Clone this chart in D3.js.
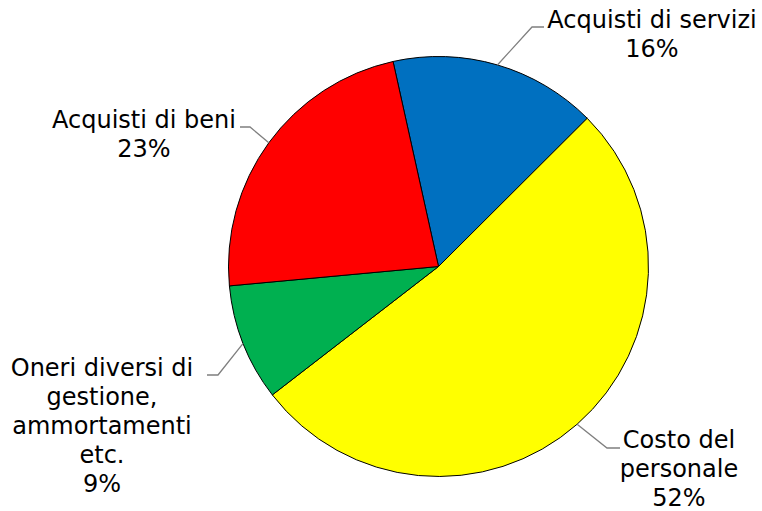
<!DOCTYPE html>
<html>
<head>
<meta charset="utf-8">
<script src="https://cdn.jsdelivr.net/npm/d3@7"></script>
<style>
  html, body { margin: 0; padding: 0; background: #fff; }
  text { font-family: "DejaVu Sans", Verdana, sans-serif; font-size: 24px; fill: #000; }
</style>
</head>
<body>
<div id="container"></div>
<script>
const WIDTH = 762;
const HEIGHT = 511;
const CX = 438.5;
const CY = 266.5;
const RADIUS = 210;

// data
const categories = ['Acquisti di servizi', 'Costo del personale', 'Oneri diversi di gestione, ammortamenti etc.', 'Acquisti di beni'];
const values = [16, 52, 9, 23];
const colors = ['#0070C0', '#FFFF00', '#00B050', '#FF0000'];
const labelLines = [
  ['Acquisti di servizi', '16%'],
  ['Costo del', 'personale', '52%'],
  ['Oneri diversi di', 'gestione,', 'ammortamenti', 'etc.', '9%'],
  ['Acquisti di beni', '23%']
];

// label layout: elbow point, end of the short horizontal, text centre and first baseline
const labelLayout = [
  { ex: 532, ey: 27, hx: 544, tx: 652, ty: 28 },
  { ex: 607, ey: 448, hx: 620, tx: 679, ty: 448 },
  { ex: 218, ey: 375, hx: 207, tx: 102, ty: 376 },
  { ex: 250, ey: 127, hx: 240, tx: 144, ty: 128 }
];
const LINE_H = 29;
const START = -12.5 * Math.PI / 180;

const svg = d3.select('#container')
              .append('svg')
                .attr('width', WIDTH)
                .attr('height', HEIGHT);

const g = svg.append('g')
               .attr('transform', `translate(${CX}, ${CY})`);

const pie = d3.pie()
              .sort(null)
              .value(d => d)
              .startAngle(START)
              .endAngle(START + 2 * Math.PI);

const arcs = pie(values);

const arc = d3.arc().innerRadius(0).outerRadius(RADIUS);

g.selectAll('path.slice')
 .data(arcs)
 .enter()
 .append('path')
   .attr('class', 'slice')
   .attr('d', arc)
   .attr('fill', (d, i) => colors[i])
   .attr('stroke', '#000')
   .attr('stroke-width', 1);

// leader lines
svg.selectAll('polyline.leader')
   .data(arcs)
   .enter()
   .append('polyline')
     .attr('class', 'leader')
     .attr('fill', 'none')
     .attr('stroke', '#7f7f7f')
     .attr('stroke-width', 1.3)
     .attr('points', (d, i) => {
         const a = (d.startAngle + d.endAngle) / 2;
         const sx = CX + RADIUS * Math.sin(a);
         const sy = CY - RADIUS * Math.cos(a);
         const L = labelLayout[i];
         return `${sx},${sy} ${L.ex},${L.ey} ${L.hx},${L.ey}`;
     });

// labels
const labels = svg.selectAll('text.label')
                  .data(arcs)
                  .enter()
                  .append('text')
                    .attr('class', 'label')
                    .attr('text-anchor', 'middle');

labels.each(function(d, i) {
    const L = labelLayout[i];
    d3.select(this)
      .selectAll('tspan')
      .data(labelLines[i])
      .enter()
      .append('tspan')
        .attr('x', L.tx)
        .attr('y', (t, j) => L.ty + j * LINE_H)
        .text(t => t);
});
</script>
</body>
</html>
